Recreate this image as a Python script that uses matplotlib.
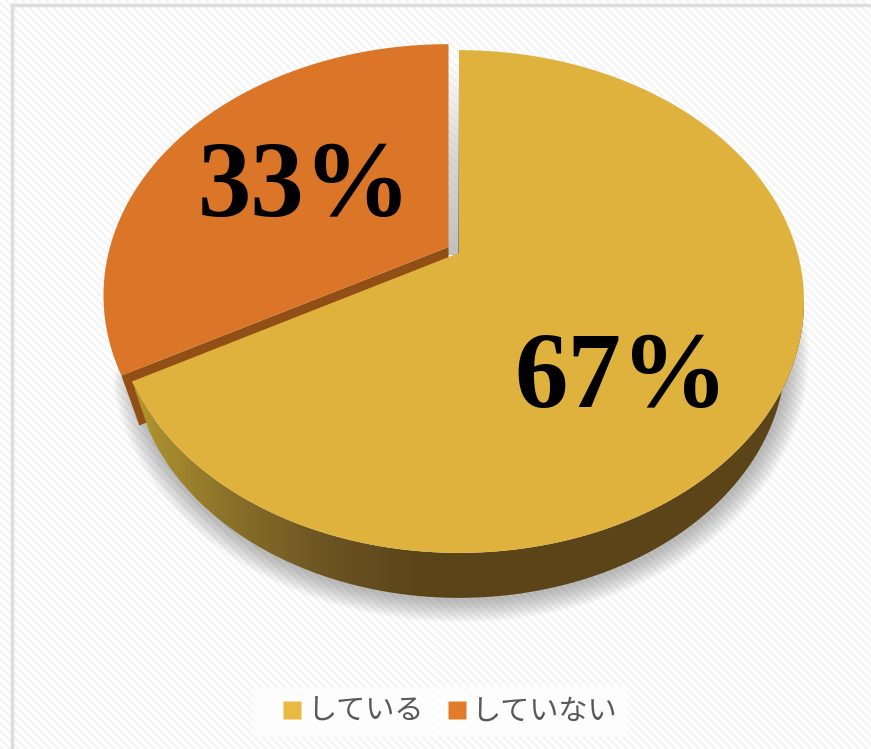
import numpy as np
import matplotlib
matplotlib.use("Agg")
import matplotlib.pyplot as plt
from matplotlib.colors import LinearSegmentedColormap
from matplotlib.lines import Line2D
from matplotlib.patches import Polygon

plt.rcParams['font.family'] = ['Noto Sans CJK JP', 'DejaVu Sans']

labels = ['している', 'していない']
values = [67, 33]
colors = ['#dfb23d', '#db7527']
legend_colors = ['#e8ba42', '#e27c2b']

W, H = 871, 749

# pie projection: unit circle seen in perspective, in pixel units
CX, CY = 459, 253
RX, RY = 338.5, 242
K = 0.193
EXPLODE = (-10.5, -6)


def rim(theta):
    w = 1 + K*np.cos(theta)
    return CX + RX*np.sin(theta)/w, CY - RY*np.cos(theta)/w


def lower(x, y):
    # rim of the underside of the disc
    return CX + 0.947*(x - CX), 598 - 0.972*(553 - y)


def arc(start, stop, n=200):
    return rim(np.linspace(start, stop, n))


fig = plt.figure(figsize=(W/100, H/100), dpi=100)
ax = fig.add_axes([0, 0, 1, 1])
ax.set_xlim(0, W)
ax.set_ylim(H, 0)
ax.axis('off')

# striped backdrop
yy, xx = np.mgrid[0:H, 0:W]
stripes = ((xx - yy) % 8 < 4).astype(float)
ax.imshow(stripes, extent=(0, W, H, 0), cmap=LinearSegmentedColormap.from_list('bg', ['#f5f5f5', '#ffffff']),
          interpolation='nearest', aspect='auto', zorder=0)
ax.plot([12, 12], [H, 5], color='#dedede', lw=2.5, zorder=1)
ax.plot([12, W], [5, 5], color='#dedede', lw=2.5, zorder=1)

# angle where the first slice ends, clockwise from 12 o'clock
split = 2*np.pi*values[0]/sum(values)

# soft shadow under the disc
bx, by = lower(*arc(np.pi*0.3, split + 0.2))
for lw in np.arange(32, 1, -2.5):
    ax.plot(bx + 1, by + 2, color='#585858', alpha=0.035, lw=lw, solid_capstyle='round', zorder=2)

# shadow falling into the gap between the slices
gap = np.linspace(0, 1, 100).reshape(-1, 1)
gap_cmap = LinearSegmentedColormap.from_list('gap', [(0.75, 0.75, 0.75, 0), (0.72, 0.72, 0.72, 0.55), (0.7, 0.7, 0.7, 0.8)])
ax.imshow(gap, extent=(446, 459, 255, 60), cmap=gap_cmap, aspect='auto', zorder=2)
edge_cmap = LinearSegmentedColormap.from_list('edge', [(0.5, 0.48, 0.42, 0), (0.5, 0.48, 0.42, 0.9)])
ax.imshow(gap, extent=(457.5, 459.5, 255, 70), cmap=edge_cmap, aspect='auto', zorder=2)

# orange slice, pulled away from the centre
ox, oy = arc(split, 2*np.pi)
ox, oy = ox + EXPLODE[0], oy + EXPLODE[1]
ax_, ay_ = CX + EXPLODE[0], CY + EXPLODE[1]
lcx, lcy = lower(ox[0], oy[0])
lax, lay = lower(ax_, ay_)
ax.add_patch(Polygon([(ax_, ay_), (ox[0], oy[0]), (lcx, lcy), (lax, lay)], closed=True,
                     fc='#914f16', ec='none', zorder=3))
ax.add_patch(Polygon(np.r_[[(ax_, ay_)], np.c_[ox, oy]], closed=True, fc=colors[1], ec='none', zorder=4))

# side wall of the yellow slice, shaded left to right
tx, ty = arc(np.pi*0.4, split)
wx, wy = lower(tx, ty)
wall = Polygon(np.r_[np.c_[tx, ty], np.c_[wx, wy][::-1]], closed=True, fc='none', ec='none', zorder=5)
ax.add_patch(wall)
wall_cmap = LinearSegmentedColormap.from_list('wall', ['#b0962f', '#8a7029', '#6b5322', '#5a4418', '#5a4418'])
im = ax.imshow(np.linspace(0, 1, 400).reshape(1, -1), extent=(135, 520, 620, 300), cmap=wall_cmap,
               aspect='auto', zorder=5)
im.set_clip_path(wall)
ax.fill_between([520, 810], 300, 620, color='#5a4418', zorder=5, clip_path=wall)

# yellow slice
yx, yy_ = arc(0, split, 400)
ax.add_patch(Polygon(np.r_[[(CX, CY)], np.c_[yx, yy_]], closed=True, fc=colors[0], ec='none', zorder=6))

ax.set_xlim(0, W)
ax.set_ylim(H, 0)

ax.text(621, 381, f'{values[0]}%', family='Liberation Serif', weight='bold', fontsize=77,
        ha='center', va='center', color='black', zorder=7)
ax.text(305, 190, f'{values[1]}%', family='Liberation Serif', weight='bold', fontsize=77,
        ha='center', va='center', color='black', zorder=7)

handles = [Line2D([], [], ls='none', marker='s', ms=13, mfc=c, mec='none', label=t)
           for c, t in zip(legend_colors, labels)]
leg = ax.legend(handles=handles, ncol=2, loc='center', bbox_to_anchor=(440/W, 1 - 712/H), frameon=True,
                fontsize=21, labelcolor='#595959', handletextpad=-0.5, columnspacing=0.13,
                borderpad=0.35, borderaxespad=0, fancybox=False, framealpha=0.7, edgecolor='none')
leg.set_zorder(8)

fig.savefig('out.png', dpi=100)
